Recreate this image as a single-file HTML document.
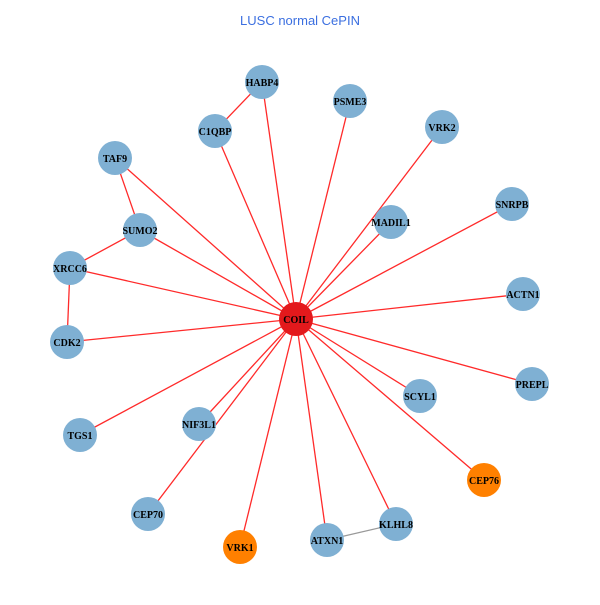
<!DOCTYPE html>
<html><head><style>body{margin:0;background:#fff}</style></head><body>
<svg width="600" height="600" xmlns="http://www.w3.org/2000/svg" font-family="Liberation Serif, serif" font-weight="bold" font-size="10">
<rect width="600" height="600" fill="#fff"/>
<text x="300" y="25" text-anchor="middle" font-family="Liberation Sans, sans-serif" font-weight="normal" font-size="13" fill="#3b6fe0">LUSC normal CePIN</text>
<g stroke="#ff2a2a" stroke-width="1.3">
<line x1="296" y1="319" x2="262" y2="82"/>
<line x1="296" y1="319" x2="350" y2="101"/>
<line x1="296" y1="319" x2="215" y2="131"/>
<line x1="296" y1="319" x2="442" y2="127"/>
<line x1="296" y1="319" x2="115" y2="158"/>
<line x1="296" y1="319" x2="512" y2="204"/>
<line x1="296" y1="319" x2="140" y2="230"/>
<line x1="296" y1="319" x2="391" y2="222"/>
<line x1="296" y1="319" x2="70" y2="268"/>
<line x1="296" y1="319" x2="523" y2="294"/>
<line x1="296" y1="319" x2="67" y2="342"/>
<line x1="296" y1="319" x2="532" y2="384"/>
<line x1="296" y1="319" x2="420" y2="396"/>
<line x1="296" y1="319" x2="80" y2="435"/>
<line x1="296" y1="319" x2="199" y2="424"/>
<line x1="296" y1="319" x2="484" y2="480"/>
<line x1="296" y1="319" x2="148" y2="514"/>
<line x1="296" y1="319" x2="240" y2="547"/>
<line x1="296" y1="319" x2="327" y2="540"/>
<line x1="296" y1="319" x2="396" y2="524"/>
<line x1="262" y1="82" x2="215" y2="131"/>
<line x1="115" y1="158" x2="140" y2="230"/>
<line x1="140" y1="230" x2="70" y2="268"/>
<line x1="70" y1="268" x2="67" y2="342"/>
</g>
<line x1="327" y1="540" x2="396" y2="524" stroke="#999" stroke-width="1.3"/>
<g fill="#7fb0d3">
<circle cx="262" cy="82" r="17"/><circle cx="350" cy="101" r="17"/><circle cx="215" cy="131" r="17"/>
<circle cx="442" cy="127" r="17"/><circle cx="115" cy="158" r="17"/><circle cx="512" cy="204" r="17"/>
<circle cx="140" cy="230" r="17"/><circle cx="391" cy="222" r="17"/><circle cx="70" cy="268" r="17"/>
<circle cx="523" cy="294" r="17"/><circle cx="67" cy="342" r="17"/><circle cx="532" cy="384" r="17"/>
<circle cx="420" cy="396" r="17"/><circle cx="80" cy="435" r="17"/><circle cx="199" cy="424" r="17"/>
<circle cx="148" cy="514" r="17"/><circle cx="327" cy="540" r="17"/><circle cx="396" cy="524" r="17"/>
</g>
<circle cx="484" cy="480" r="17" fill="#ff8000"/>
<circle cx="240" cy="547" r="17" fill="#ff8000"/>
<circle cx="296" cy="319" r="17" fill="#e3191c"/>
<g text-anchor="middle" fill="#000">
<text x="262" y="86">HABP4</text><text x="350" y="105">PSME3</text><text x="215" y="135">C1QBP</text>
<text x="442" y="131">VRK2</text><text x="115" y="162">TAF9</text><text x="512" y="208">SNRPB</text>
<text x="140" y="234">SUMO2</text><text x="391" y="226">MADIL1</text><text x="70" y="272">XRCC6</text>
<text x="523" y="298">ACTN1</text><text x="67" y="346">CDK2</text><text x="532" y="388">PREPL</text>
<text x="420" y="400">SCYL1</text><text x="80" y="439">TGS1</text><text x="199" y="428">NIF3L1</text>
<text x="484" y="484">CEP76</text><text x="148" y="518">CEP70</text><text x="240" y="551">VRK1</text>
<text x="327" y="544">ATXN1</text><text x="396" y="528">KLHL8</text><text x="296" y="323">COIL</text>
</g>
</svg>
</body></html>
